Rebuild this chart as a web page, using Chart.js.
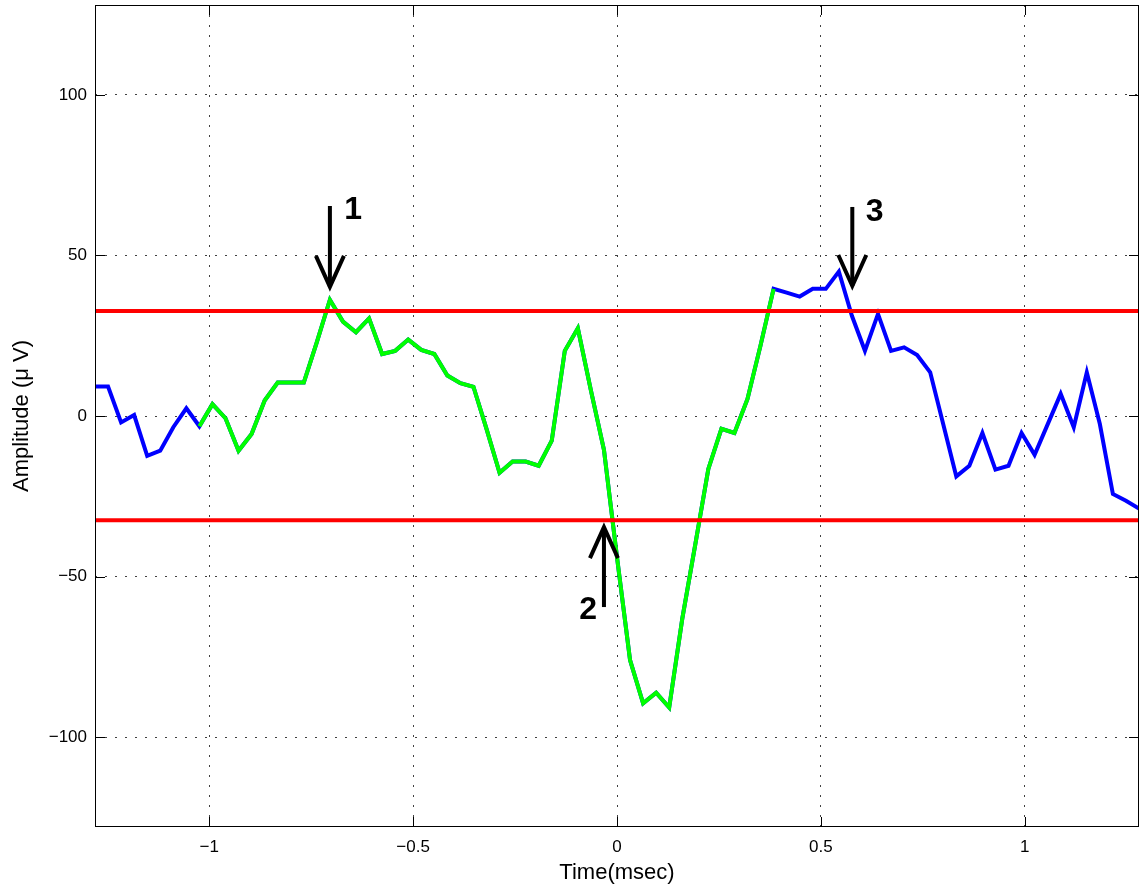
<!DOCTYPE html>
<html>
<head>
<meta charset="utf-8">
<title>Amplitude vs Time</title>
<script src="https://cdn.jsdelivr.net/npm/chart.js@4.4.1/dist/chart.umd.min.js"></script>
<style>
  html, body { margin: 0; padding: 0; background: #fff; }
  #chart { display: block; }
</style>
</head>
<body>
<canvas id="chart" width="1141" height="888"></canvas>
<script>
// sample times (msec) and recorded amplitude (uV)
const timeMs = [
  -1.280, -1.248, -1.216, -1.184, -1.152, -1.120, -1.088, -1.056, -1.024, -0.992,
  -0.960, -0.928, -0.896, -0.864, -0.832, -0.800, -0.768, -0.736, -0.704, -0.672,
  -0.640, -0.608, -0.576, -0.544, -0.512, -0.480, -0.448, -0.416, -0.384, -0.352,
  -0.320, -0.288, -0.256, -0.224, -0.192, -0.160, -0.128, -0.096, -0.064, -0.032,
   0.000,  0.032,  0.064,  0.096,  0.128,  0.160,  0.192,  0.224,  0.256,  0.288,
   0.320,  0.352,  0.384,  0.416,  0.448,  0.480,  0.512,  0.544,  0.576,  0.608,
   0.640,  0.672,  0.704,  0.736,  0.768,  0.800,  0.832,  0.864,  0.896,  0.928,
   0.960,  0.992,  1.024,  1.056,  1.088,  1.120,  1.152,  1.184,  1.216,  1.248,
   1.280
];
const amplitude = [
    9.2,   9.2,  -2.0,   0.3, -12.4, -10.8,  -3.5,   2.4,  -3.2,   3.7,
   -0.7, -10.8,  -5.6,   4.8,  10.4,  10.4,  10.4,  23.0,  36.2,  29.4,
   26.1,  30.4,  19.3,  20.3,  23.8,  20.6,  19.3,  12.6,  10.2,   9.1,
   -4.0, -17.7, -14.2, -14.2, -15.5,  -7.7,  20.3,  27.3,   8.0, -10.5,
  -44.0, -76.0, -89.5, -86.2, -90.8, -63.2, -40.0, -16.5,  -4.0,  -5.3,
    5.3,  22.0,  39.6,  38.4,  37.2,  39.6,  39.6,  45.0,  31.2,  20.3,
   31.8,  20.3,  21.4,  19.0,  13.6,  -2.6, -18.8, -15.5,  -5.3, -16.7,
  -15.5,  -5.3, -12.1,  -2.6,   6.9,  -3.5,  13.6,  -2.5, -24.3, -26.4,
  -28.8
];
// detection thresholds and the highlighted (detected) window
const thresholds = [32.7, -32.5];
const detectWindow = [-1.024, 0.384];

const xTicks = [-1, -0.5, 0, 0.5, 1];
const yTicks = [-100, -50, 0, 50, 100];
const xRange = [-1.28, 1.28];
const yRange = [-128, 128];

// arrow annotations (data units)
const arrows = [
  { label: '1', x: -0.704, from: 65.4, to: 40.2, labelX: -0.669, labelY: 61.4, align: 'left' },
  { label: '2', x: -0.032, from: -59.5, to: -34.6, labelX: -0.049, labelY: -63.2, align: 'right' },
  { label: '3', x: 0.577, from: 65.1, to: 40.5, labelX: 0.610, labelY: 60.7, align: 'left' },
];

const FONT = '"Liberation Sans", Arial, Helvetica, sans-serif';
const minus = (v) => String(v).replace('-', '\u2212');

const allPoints = timeMs.map((t, i) => ({ x: t, y: amplitude[i] }));
const windowPoints = timeMs.map((t, i) => ({
  x: t,
  y: (t >= detectWindow[0] - 1e-9 && t <= detectWindow[1] + 1e-9) ? amplitude[i] : null,
}));

// box, inward tick marks and the arrows, drawn on top
const matlabFrame = {
  id: 'matlabFrame',
  afterDatasetsDraw(chart) {
    const { ctx, chartArea: a, scales } = chart;
    const xs = scales.x, ys = scales.y;
    ctx.save();

    ctx.strokeStyle = '#000';
    ctx.fillStyle = '#000';
    ctx.lineWidth = 4;
    ctx.lineJoin = 'miter';
    arrows.forEach((ar) => {
      const px = xs.getPixelForValue(ar.x);
      const y1 = ys.getPixelForValue(ar.from);
      const y2 = ys.getPixelForValue(ar.to);
      const dir = Math.sign(y2 - y1);
      ctx.beginPath();
      ctx.moveTo(px, y1);
      ctx.lineTo(px, y2);
      ctx.stroke();
      ctx.beginPath();
      ctx.moveTo(px - 14, y2 - dir * 31);
      ctx.lineTo(px, y2);
      ctx.lineTo(px + 14, y2 - dir * 31);
      ctx.stroke();
      ctx.font = 'bold 32px ' + FONT;
      ctx.textAlign = ar.align;
      ctx.textBaseline = 'alphabetic';
      ctx.fillText(ar.label, xs.getPixelForValue(ar.labelX), ys.getPixelForValue(ar.labelY));
    });

    ctx.lineWidth = 1;
    ctx.strokeRect(a.left + 0.5, a.top + 0.5, a.right - a.left - 1, a.bottom - a.top - 1);
    const tl = 10;
    ctx.beginPath();
    xTicks.forEach((v) => {
      const px = Math.round(xs.getPixelForValue(v)) + 0.5;
      ctx.moveTo(px, a.bottom); ctx.lineTo(px, a.bottom - tl);
      ctx.moveTo(px, a.top); ctx.lineTo(px, a.top + tl);
    });
    yTicks.forEach((v) => {
      const py = Math.round(ys.getPixelForValue(v)) + 0.5;
      ctx.moveTo(a.left, py); ctx.lineTo(a.left + tl, py);
      ctx.moveTo(a.right, py); ctx.lineTo(a.right - tl, py);
    });
    ctx.stroke();
    ctx.restore();
  }
};

new Chart(document.getElementById('chart'), {
  type: 'line',
  data: {
    datasets: [
      ...thresholds.map((th) => ({
        label: 'threshold',
        data: [{ x: xRange[0], y: th }, { x: xRange[1], y: th }],
        borderColor: '#ff0000',
        borderWidth: 4,
        pointRadius: 0,
        order: 0,
      })),
      {
        label: 'detected',
        data: windowPoints,
        borderColor: '#00ff00',
        borderWidth: 4,
        pointRadius: 0,
        spanGaps: false,
        order: 1,
      },
      {
        label: 'signal',
        data: allPoints,
        borderColor: '#0000ff',
        borderWidth: 4,
        pointRadius: 0,
        order: 2,
      },
    ],
  },
  options: {
    responsive: false,
    animation: false,
    parsing: false,
    layout: { padding: { top: 5, right: 2, left: 0, bottom: 0 } },
    elements: { line: { tension: 0 } },
    plugins: {
      legend: { display: false },
      tooltip: { enabled: false },
    },
    scales: {
      x: {
        type: 'linear',
        min: xRange[0],
        max: xRange[1],
        afterBuildTicks: (axis) => { axis.ticks = xTicks.map((v) => ({ value: v })); },
        afterFit: (axis) => {
          axis.height = 61;
          axis.paddingLeft = 0;
          axis.paddingRight = 0;
        },
        grid: { color: 'rgba(0,0,0,0.75)', lineWidth: 1, drawTicks: false },
        border: { display: false, dash: [2, 8] },
        ticks: {
          color: '#000',
          padding: 10,
          maxRotation: 0,
          font: { family: FONT, size: 17 },
          callback: (v) => minus(v),
        },
        title: {
          display: true,
          text: 'Time(msec)',
          color: '#000',
          font: { family: FONT, size: 22 },
          padding: { top: 0, bottom: 2 },
        },
      },
      y: {
        type: 'linear',
        min: yRange[0],
        max: yRange[1],
        afterBuildTicks: (axis) => { axis.ticks = yTicks.map((v) => ({ value: v })); },
        afterFit: (axis) => {
          axis.width = 95;
          axis.paddingTop = 0;
          axis.paddingBottom = 0;
        },
        grid: { color: 'rgba(0,0,0,0.75)', lineWidth: 1, drawTicks: false },
        border: { display: false, dash: [2, 8] },
        ticks: {
          color: '#000',
          padding: 8,
          font: { family: FONT, size: 17 },
          callback: (v) => minus(v),
        },
        title: {
          display: true,
          text: 'Amplitude (\u03bc V)',
          color: '#000',
          font: { family: FONT, size: 22 },
          padding: { top: 9, bottom: 0 },
        },
      },
    },
  },
  plugins: [matlabFrame],
});
</script>
</body>
</html>
